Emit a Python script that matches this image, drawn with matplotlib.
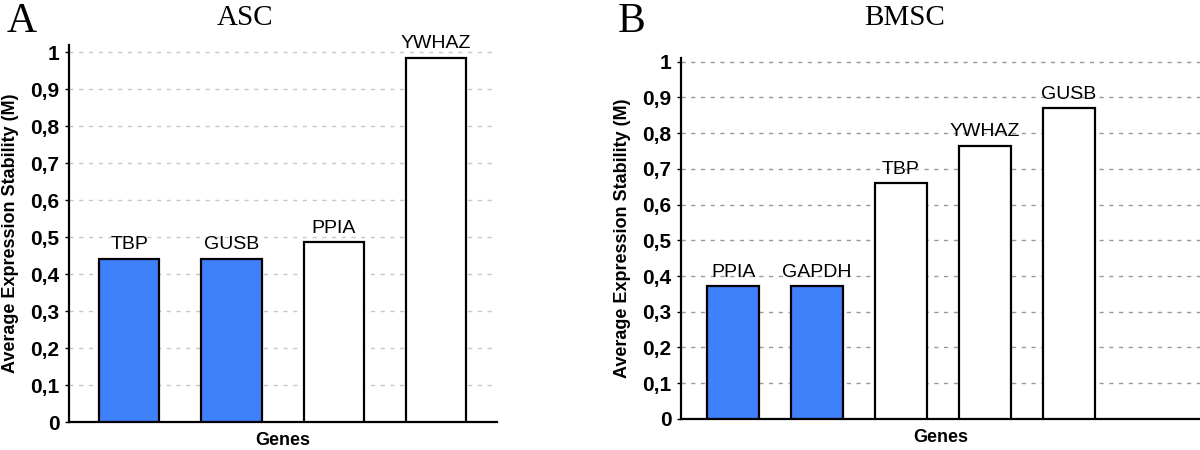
import matplotlib
matplotlib.use('Agg')
import matplotlib.pyplot as plt

# Dados
asc_genes = ['TBP', 'GUSB', 'PPIA', 'YWHAZ']
asc_m = [0.442, 0.442, 0.487, 0.986]
asc_best = [True, True, False, False]

bmsc_genes = ['PPIA', 'GAPDH', 'TBP', 'YWHAZ', 'GUSB']
bmsc_m = [0.372, 0.372, 0.659, 0.765, 0.870]
bmsc_best = [True, True, False, False, False]

yticks = [0, 0.1, 0.2, 0.3, 0.4, 0.5, 0.6, 0.7, 0.8, 0.9, 1.0]
ytick_labels = ['0', '0,1', '0,2', '0,3', '0,4', '0,5', '0,6', '0,7', '0,8', '0,9', '1']

BLUE = '#3f80fb'
sans = 'Liberation Sans'
serif = 'Liberation Serif'

fig = plt.figure(figsize=(12, 4.5), dpi=100)


def painel(rect, genes, vals, best, xlim, ylim_top, width, grid_color):
    ax = fig.add_axes(rect)
    x = list(range(len(genes)))
    cores = [BLUE if b else 'white' for b in best]
    ax.bar(x, vals, width=width, color=cores, edgecolor='black', linewidth=1.6, zorder=3)
    for xi, v, g in zip(x, vals, genes):
        ax.text(xi, v + 0.015, g, ha='center', va='bottom', fontsize=14,
                family=sans, zorder=4)
    ax.set_xlim(*xlim)
    ax.set_ylim(0, ylim_top)
    ax.set_yticks(yticks)
    ax.set_yticklabels(ytick_labels, family=sans, fontsize=15, fontweight='bold')
    ax.set_xticks([])
    ax.yaxis.grid(True, linestyle=(0, (3, 4)), color=grid_color, linewidth=1.0, zorder=0)
    for s in ['top', 'right']:
        ax.spines[s].set_visible(False)
    ax.spines['left'].set_linewidth(1.6)
    ax.spines['bottom'].set_linewidth(1.6)
    ax.tick_params(axis='y', length=3, width=1, pad=4)
    ax.set_xlabel('Genes', family=sans, fontsize=13, fontweight='bold', labelpad=7)
    ax.set_ylabel('Average Expression Stability (M)', family=sans, fontsize=13,
                  fontweight='bold', labelpad=8)
    return ax


axA = painel([0.0575, 0.062, 0.357, 0.838], asc_genes, asc_m, asc_best,
             (-0.59, 3.6), 1.02, 0.59, '#c8c8c8')
axB = painel([0.5675, 0.069, 0.4325, 0.802], bmsc_genes, bmsc_m, bmsc_best,
             (-0.62, 5.56), 1.01, 0.61, '#999999')

fig.text(245 / 1200, 1 - 18 / 450, 'ASC', ha='center', va='center', family=serif, fontsize=21)
fig.text(905 / 1200, 1 - 18 / 450, 'BMSC', ha='center', va='center', family=serif, fontsize=21)
fig.text(22 / 1200, 1 - 22 / 450, 'A', ha='center', va='center', family=serif, fontsize=30)
fig.text(632 / 1200, 1 - 22 / 450, 'B', ha='center', va='center', family=serif, fontsize=30)

plt.savefig('out.png', dpi=100)
plt.close()
